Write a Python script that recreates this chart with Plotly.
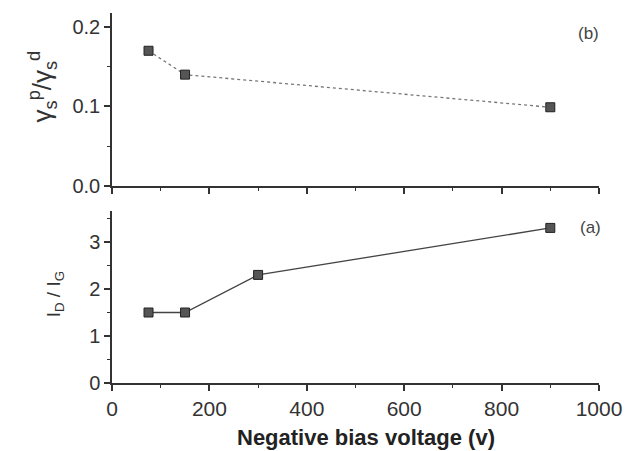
import plotly.graph_objects as go

# Data
x_b = [75, 150, 900]
ratio_b = [0.17, 0.14, 0.099]
x_a = [75, 150, 300, 900]
ratio_a = [1.5, 1.5, 2.3, 3.3]

x_ticks = [0, 200, 400, 600, 800, 1000]

W, H = 634, 451
ML, MR, MT, MB = 112, 32, 13, 68
PH = H - MT - MB

def yfrac(p):
    return (H - MB - p) / PH

axis_col = "#333333"
font = dict(family="Liberation Sans, Arial, sans-serif", size=20, color="#333333")

fig = go.Figure()

fig.add_trace(go.Scatter(
    x=x_b, y=ratio_b, xaxis="x2", yaxis="y2", mode="lines+markers",
    line=dict(color="#777777", width=1.3, dash="dot"),
    marker=dict(symbol="square", size=9, color="#555555", line=dict(color="#222222", width=1)),
    showlegend=False))

fig.add_trace(go.Scatter(
    x=x_a, y=ratio_a, xaxis="x", yaxis="y", mode="lines+markers",
    line=dict(color="#444444", width=1.3),
    marker=dict(symbol="square", size=9, color="#555555", line=dict(color="#222222", width=1)),
    showlegend=False))

common_x = dict(range=[0, 1000], tickvals=x_ticks, showgrid=False, zeroline=False,
                showline=True, linecolor=axis_col, linewidth=1.5,
                ticks="outside", ticklen=6, tickwidth=1.5, tickcolor=axis_col,
                minor=dict(dtick=100, ticks="outside", ticklen=3, tickcolor=axis_col, tickwidth=1.2))
common_y = dict(showgrid=False, zeroline=False, showline=True, linecolor=axis_col, linewidth=1.5,
                ticks="outside", ticklen=6, tickwidth=1.5, tickcolor=axis_col)

fig.update_layout(
    width=W, height=H,
    margin=dict(l=ML, r=MR, t=MT, b=MB),
    paper_bgcolor="white", plot_bgcolor="white",
    font=font,
    xaxis=dict(common_x, anchor="y", domain=[0, 1], tickfont=dict(size=21)),
    xaxis2=dict(common_x, anchor="y2", domain=[0, 1], matches="x", showticklabels=False),
    yaxis=dict(common_y, anchor="x", domain=[0, yfrac(211)], range=[0, 3.66],
               tickvals=[0, 1, 2, 3], ticktext=["0", "1", "2", "3"],
               minor=dict(dtick=0.5, ticks="outside", ticklen=3, tickcolor=axis_col, tickwidth=1.2)),
    yaxis2=dict(common_y, anchor="x2", domain=[yfrac(186), 1], range=[0, 0.2175],
                tickvals=[0, 0.1, 0.2], ticktext=["0.0", "0.1", "0.2"],
                minor=dict(dtick=0.05, ticks="outside", ticklen=3, tickcolor=axis_col, tickwidth=1.2)),
)

def px_x(p):
    return (p - ML) / (W - ML - MR)

annots = [
    dict(text="γ<sub>s</sub><sup>p</sup>/γ<sub>s</sub><sup>d</sup>", x=px_x(42), y=yfrac(86),
         textangle=-90, font=dict(size=26, color="#333333")),
    dict(text="I<sub>D</sub> / I<sub>G</sub>", x=px_x(55), y=yfrac(294),
         textangle=-90, font=dict(size=19, color="#333333")),
    dict(text="<b>Negative bias voltage (v)</b>", x=px_x(368), y=yfrac(437),
         font=dict(size=22, color="#222222")),
    dict(text="(b)", x=px_x(591), y=yfrac(34), font=dict(size=17, color="#444444")),
    dict(text="(a)", x=px_x(593), y=yfrac(227), font=dict(size=17, color="#444444")),
]
for a in annots:
    fig.add_annotation(xref="paper", yref="paper", showarrow=False,
                       xanchor="center", yanchor="middle", **a)

fig.write_html("out.html")
